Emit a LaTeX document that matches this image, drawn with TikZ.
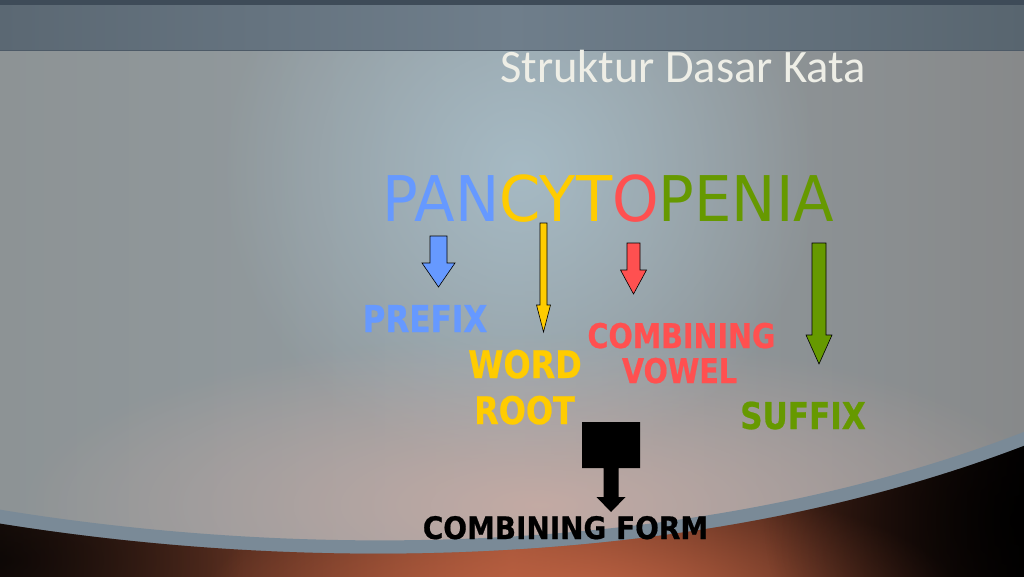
\documentclass[tikz,border=0pt]{standalone}
\usepackage{fontspec}
\usetikzlibrary{fadings}
\newfontfamily\titlefont{Carlito}
\newfontfamily\wordfont[FakeStretch=0.94]{DejaVu Sans}
\newfontfamily\labfont[FakeStretch=0.84,FakeBold=0.6]{DejaVu Sans Bold}
\newfontfamily\formfont[FakeStretch=0.9,FakeBold=0.6]{DejaVu Sans Bold}
\definecolor{cblue}{HTML}{6699FF}
\definecolor{cyellow}{HTML}{FFCC00}
\definecolor{cred}{HTML}{FF5050}
\definecolor{cgreen}{HTML}{669900}
\definecolor{ctitle}{HTML}{EEEEE6}
\definecolor{bodyL}{HTML}{8D9395}
\definecolor{bodyM}{HTML}{939DA2}
\definecolor{bodyR}{HTML}{87898A}
\definecolor{glowblue}{HTML}{A6BAC4}
\definecolor{warm}{HTML}{C6ABA4}
\definecolor{bandL}{HTML}{5B6873}
\definecolor{bandM}{HTML}{6F7E8B}
\definecolor{bandR}{HTML}{58656F}
\definecolor{bandtop}{HTML}{3E4B58}
\definecolor{rim}{HTML}{7A8A97}
\definecolor{brownL}{HTML}{22140F}
\definecolor{brownM}{HTML}{9A4E34}
\definecolor{brownR}{HTML}{060303}
\definecolor{orangeglow}{HTML}{C06444}
\tikzfading[name=glow, inner color=transparent!0, outer color=transparent!100]
\tikzset{
  blockarrow/.style={draw=black, line width=0.6pt, line join=miter},
  wordtext/.style={inner sep=0pt, anchor=base, font=\wordfont\fontsize{63}{70}\selectfont},
  labtext/.style={inner sep=0pt, anchor=base, align=center},
}
\begin{document}
\begin{tikzpicture}[x=1pt,y=-1pt]
\useasboundingbox (0,0) rectangle (1024,576);
% body background
\shade[left color=bodyL, right color=bodyR, middle color=bodyM] (0,0) rectangle (1024,576);
\fill[glowblue, path fading=glow] (520,170) ellipse (300 and 300);
\fill[warm, path fading=glow, opacity=0.95] (540,505) ellipse (520 and 170);
% top band
\shade[left color=bandL, right color=bandR, middle color=bandM] (0,0) rectangle (1024,50);
\fill[bandtop] (0,0) rectangle (1024,5);
\draw[bandtop!70!bandM, line width=1pt] (0,50) -- (1024,50);
% rim
\fill[rim] (-10,508) .. controls (300,560) and (700,560) .. (1034,428) -- (1034,446) .. controls (700,575) and (300,575) .. (-10,524) -- cycle;
% bottom region
\begin{scope}
\clip (-10,522) .. controls (300,573) and (700,573) .. (1034,442) -- (1034,586) -- (-10,586) -- cycle;
\shade[left color=brownL, right color=brownR, middle color=brownM] (0,420) rectangle (1024,576);
\fill[orangeglow, path fading=glow] (580,600) ellipse (380 and 120);
\fill[black, path fading=glow, opacity=0.85] (1024,520) ellipse (260 and 220);
\fill[black, path fading=glow, opacity=0.6] (0,560) ellipse (240 and 120);
\end{scope}
% title
\node[inner sep=0pt, anchor=base, text=ctitle, font=\titlefont\fontsize{46.5}{50}\selectfont] (title) at (683,82) {Struktur Dasar Kata};
% main word
\node[wordtext] (word) at (608.5,221) {\textcolor{cblue}{PAN}\textcolor{cyellow}{CYT}\textcolor{cred}{O}\textcolor{cgreen}{PENIA}};
% arrows
\draw[blockarrow, fill=cblue] (430,236) -- (447,236) -- (447,263) -- (455,263) -- (438.5,287) -- (422,263) -- (430,263) -- cycle;
\draw[blockarrow, fill=cyellow] (540,223) -- (547,223) -- (547,305) -- (550.5,305) -- (543.5,332) -- (536.5,305) -- (540,305) -- cycle;
\draw[blockarrow, fill=cred] (627,243) -- (640,243) -- (640,270) -- (646.5,270) -- (633.5,294) -- (620.5,270) -- (627,270) -- cycle;
\draw[blockarrow, fill=cgreen] (812,243) -- (826,243) -- (826,335) -- (832,335) -- (819,364) -- (806,335) -- (812,335) -- cycle;
\fill[black] (582,422) -- (640,422) -- (640,468) -- (618.5,468) -- (618.5,497) -- (625.5,497) -- (611,512) -- (596.5,497) -- (603.5,497) -- (603.5,468) -- (582,468) -- cycle;
% labels
\node[labtext, text=cblue, font=\labfont\fontsize{37}{40}\selectfont] (prefix) at (425,332) {PREFIX};
\node[labtext, text=cyellow, font=\labfont\fontsize{38}{40}\selectfont] (wr1) at (525,378) {WORD};
\node[labtext, text=cyellow, font=\labfont\fontsize{38}{40}\selectfont] (wr2) at (524.5,424) {ROOT};
\node[labtext, text=cred, font=\labfont\fontsize{34}{40}\selectfont] (cv1) at (681.5,348) {COMBINING};
\node[labtext, text=cred, font=\labfont\fontsize{34}{40}\selectfont] (cv2) at (679.5,383) {VOWEL};
\node[labtext, text=cgreen, font=\labfont\fontsize{37}{40}\selectfont] (suffix) at (803,429) {SUFFIX};
\node[labtext, text=black, font=\formfont\fontsize{31}{34}\selectfont] (cform) at (565.5,539) {COMBINING FORM};
\end{tikzpicture}
\end{document}
